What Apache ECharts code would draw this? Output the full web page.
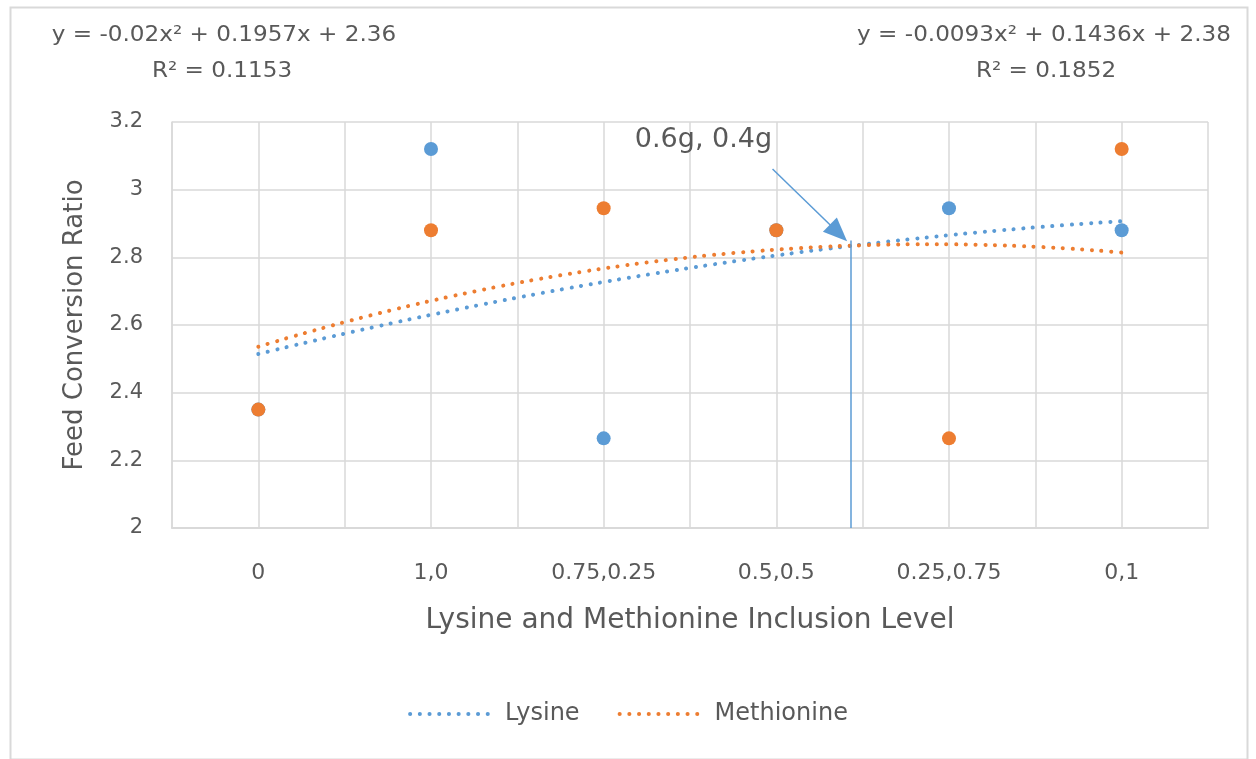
<!DOCTYPE html>
<html>
<head>
<meta charset="utf-8">
<script src="https://cdn.jsdelivr.net/npm/echarts@6/dist/echarts.min.js"></script>
<style>
  html, body { margin: 0; padding: 0; background: #fff; }
  #main { width: 1256px; height: 759px; }
</style>
</head>
<body>
<div id="main"></div>
<script type="text/javascript">
    // data
    var categories = ['0', '1,0', '0.75,0.25', '0.5,0.5', '0.25,0.75', '0,1'];
    var lysine = [2.35, 3.12, 2.265, 2.88, 2.945, 2.88];
    var methionine = [2.35, 2.88, 2.945, 2.88, 2.265, 3.12];
    // trendline coefficients as printed on the chart (a, b, c of ax^2 + bx + c)
    var lysineFit = [-0.0093, 0.1436, 2.38];
    var methionineFit = [-0.02, 0.1957, 2.36];
    var lysineR2 = 0.1852;
    var methionineR2 = 0.1153;
    var optimum = [4.43, 2.85];
    var optimumLabel = '0.6g, 0.4g';

    var font = 'DejaVu Sans';
    var textColor = '#595959';
    var grey = '#d9d9d9';
    var blue = '#5b9bd5';
    var orange = '#ed7d31';

    function points(arr) {
        return arr.map(function (v, i) { return [i + 1, v]; });
    }
    // excel-style trendline, x runs 1..n over the categories
    function trend(c) {
        var out = [];
        for (var x = 1; x <= categories.length + 0.0001; x += 0.1) {
            out.push([x, c[0] * x * x + c[1] * x + c[2]]);
        }
        return out;
    }
    function eqText(c) {
        return 'y = ' + c[0] + 'x² + ' + c[1] + 'x + ' + c[2];
    }
    function eqLabel(text, cx, cy) {
        return {
            type: 'text', x: cx, y: cy, scaleX: 1.1,
            style: {
                text: text, align: 'center', verticalAlign: 'middle',
                font: '21px "DejaVu Sans"', fill: textColor
            }
        };
    }
    var dotted = function (color) {
        return { color: color, width: 4, type: [0.1, 9.6], cap: 'round' };
    };

    var myChart = echarts.init(document.getElementById('main'));

    myChart.setOption({
        animation: false,
        textStyle: { fontFamily: font },
        graphic: [
            {
                type: 'rect', left: 8, top: 5,
                shape: { width: 1237, height: 752 },
                style: { fill: 'none', stroke: grey, lineWidth: 2 }
            },
            eqLabel(eqText(methionineFit), 224, 36),
            eqLabel('R² = ' + methionineR2, 222, 72),
            eqLabel(eqText(lysineFit), 1044, 36),
            eqLabel('R² = ' + lysineR2, 1046, 72)
        ],
        legend: {
            bottom: 28,
            left: 'center',
            itemWidth: 84,
            itemHeight: 10,
            itemGap: 38,
            data: ['Lysine', 'Methionine'],
            itemStyle: { opacity: 0 },
            lineStyle: { width: 4 },
            textStyle: { fontFamily: font, fontSize: 24, color: textColor, padding: [0, 0, 0, 6] }
        },
        grid: { left: 172, right: 48, top: 122, bottom: 231 },
        xAxis: {
            type: 'value',
            min: 0.5,
            max: 6.5,
            interval: 0.5,
            name: 'Lysine and Methionine Inclusion Level',
            nameLocation: 'middle',
            nameGap: 79,
            nameTextStyle: { fontSize: 28, color: textColor },
            axisLine: { lineStyle: { color: grey, width: 2 } },
            axisTick: { show: false },
            axisLabel: {
                fontSize: 22, color: textColor, margin: 34,
                showMinLabel: true, showMaxLabel: true,
                formatter: function (v) {
                    return Number.isInteger(v) ? categories[v - 1] : '';
                }
            },
            splitLine: { show: true, lineStyle: { color: grey, width: 1.5 } }
        },
        yAxis: {
            type: 'value',
            min: 2,
            max: 3.2,
            interval: 0.2,
            name: 'Feed Conversion Ratio',
            nameLocation: 'middle',
            nameGap: 84,
            nameTextStyle: { fontSize: 26, color: textColor },
            axisLine: { show: true, lineStyle: { color: grey, width: 1.5 } },
            axisTick: { show: false },
            axisLabel: { fontSize: 21, color: textColor, margin: 29 },
            splitLine: { lineStyle: { color: grey, width: 1.5 } }
        },
        series: [
            {
                name: 'Lysine',
                type: 'line',
                data: trend(lysineFit),
                smooth: true,
                symbol: 'none',
                lineStyle: dotted(blue),
                itemStyle: { color: blue },
                z: 3
            },
            {
                name: 'Methionine',
                type: 'line',
                data: trend(methionineFit),
                smooth: true,
                symbol: 'none',
                lineStyle: dotted(orange),
                itemStyle: { color: orange },
                z: 3
            },
            {
                name: 'Lysine points',
                type: 'scatter',
                data: points(lysine),
                symbolSize: 14,
                itemStyle: { color: blue, opacity: 1 },
                z: 4
            },
            {
                name: 'Methionine points',
                type: 'scatter',
                data: points(methionine),
                symbolSize: 14,
                itemStyle: { color: orange, opacity: 1 },
                z: 5,
                markLine: {
                    silent: true,
                    symbol: 'none',
                    label: { show: false },
                    lineStyle: { color: blue, width: 1.5, type: 'solid' },
                    data: [
                        [{ coord: [optimum[0], 2] }, { coord: optimum }],
                        [
                            { coord: [3.978, 3.061], symbol: 'none' },
                            { coord: [4.36, 2.872], symbol: 'triangle', symbolSize: [20, 24] }
                        ]
                    ]
                },
                markPoint: {
                    silent: true,
                    symbol: 'rect',
                    symbolSize: 1,
                    itemStyle: { color: 'rgba(0,0,0,0)' },
                    label: {
                        show: true,
                        formatter: optimumLabel,
                        fontFamily: font,
                        fontSize: 27,
                        color: textColor
                    },
                    data: [{ coord: [3.578, 3.147] }]
                }
            }
        ]
    });
</script>
</body>
</html>
